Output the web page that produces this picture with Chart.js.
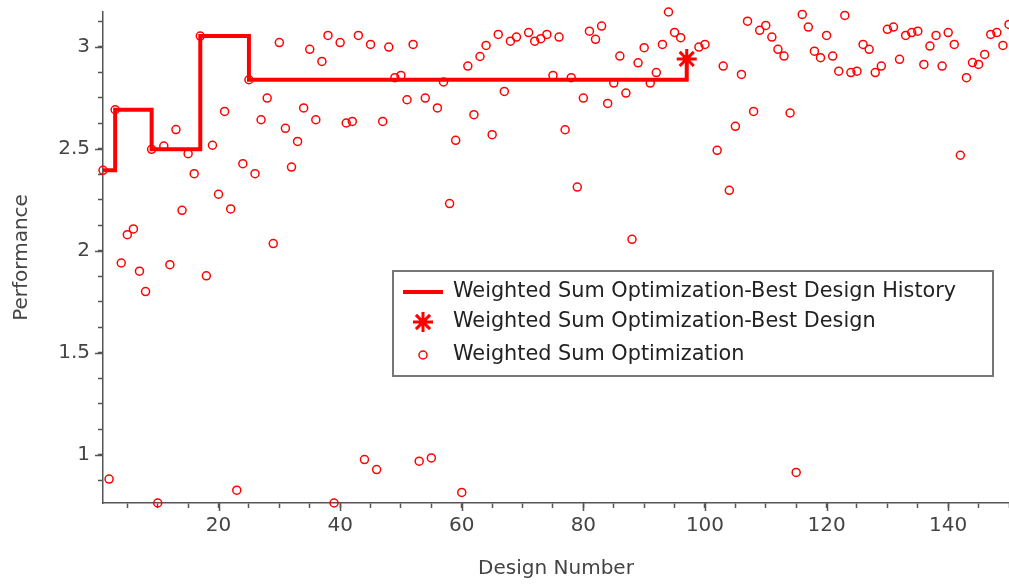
<!DOCTYPE html>
<html>
<head>
<meta charset="utf-8">
<script src="https://cdn.jsdelivr.net/npm/chart.js@4"></script>
<style>
  body { margin: 0; background: #fff; }
  #wrap { width: 1009px; height: 586px; }
</style>
</head>
<body>
<div id="wrap"><canvas id="chart"></canvas></div>
<script>
// all designs that were evaluated
const designNumbers = [
    1, 2, 3, 4, 5, 6, 7, 8, 9, 10, 11, 12, 13, 14, 15, 16, 17, 18, 19, 20,
    21, 22, 23, 24, 25, 26, 27, 28, 29, 30, 31, 32, 33, 34, 35, 36, 37, 38, 39, 40,
    41, 42, 43, 44, 45, 46, 47, 48, 49, 50, 51, 52, 53, 54, 55, 56, 57, 58, 59, 60,
    61, 62, 63, 64, 65, 66, 67, 68, 69, 71, 72, 73, 74, 75, 76, 77, 78, 79, 80,
    81, 82, 83, 84, 85, 86, 87, 88, 89, 90, 91, 92, 93, 94, 95, 96, 99, 100,
    102, 103, 104, 105, 106, 107, 108, 109, 110, 111, 112, 113, 114, 115, 116, 117, 118, 119, 120,
    121, 122, 123, 124, 125, 126, 127, 128, 129, 130, 131, 132, 133, 134, 135, 136, 137, 138, 139, 140,
    141, 142, 143, 144, 145, 146, 147, 148, 149, 150,
];
const performance = [
    2.394, 0.881, 2.691, 1.94, 2.079, 2.107, 1.90, 1.80, 2.497, 0.764, 2.513, 1.932, 2.594, 2.198, 2.476, 2.378, 3.052, 1.877, 2.517, 2.277,
    2.683, 2.205, 0.827, 2.427, 2.838, 2.378, 2.642, 2.748, 2.035, 3.02, 2.60, 2.41, 2.536, 2.70, 2.987, 2.642, 2.928, 3.055, 0.764, 3.02,
    2.626, 2.634, 3.055, 0.977, 3.011, 0.928, 2.634, 2.998, 2.848, 2.859, 2.74, 3.011, 0.969, 2.748, 0.985, 2.70, 2.827, 2.231, 2.541, 0.816,
    2.905, 2.667, 2.952, 3.006, 2.569, 3.06, 2.781, 3.027, 3.047, 3.069, 3.027, 3.039, 3.06, 2.859, 3.047, 2.593, 2.848, 2.312, 2.748,
    3.076, 3.036, 3.101, 2.722, 2.822, 2.954, 2.773, 2.056, 2.921, 2.995, 2.822, 2.873, 3.011, 3.17, 3.07, 3.044, 2.998, 3.011,
    2.492, 2.905, 2.296, 2.61, 2.864, 3.125, 2.683, 3.08, 3.104, 3.047, 2.987, 2.954, 2.675, 0.914, 3.158, 3.096, 2.978, 2.946, 3.055,
    2.954, 2.88, 3.153, 2.873, 2.88, 3.011, 2.987, 2.873, 2.905, 3.085, 3.096, 2.938, 3.055, 3.069, 3.076, 2.913, 3.003, 3.055, 2.905, 3.069,
    3.011, 2.468, 2.848, 2.922, 2.913, 2.962, 3.06, 3.069, 3.006, 3.109,
];

// best design history (step line) and the final best design
const historyDesigns = [1, 3, 9, 17, 25, 97];
const historyPerformance = [2.394, 2.691, 2.497, 3.052, 2.838, 2.94];
const bestDesign = [97];
const bestPerformance = [2.94];

const seriesNames = [
    "Weighted Sum Optimization-Best Design History",
    "Weighted Sum Optimization-Best Design",
    "Weighted Sum Optimization",
];

const xTickLabels = [20, 40, 60, 80, 100, 120, 140];
const yTickLabels = [1, 1.5, 2, 2.5, 3];

const red = "#ff0000";
const axisColor = "#555";
const textColor = "#444";

Chart.defaults.font.family = "'DejaVu Sans', Verdana, sans-serif";
Chart.defaults.font.size = 20;
Chart.defaults.color = textColor;

const toPoints = (xs, ys) => xs.map((x, i) => ({ x: x, y: ys[i] }));

// long ticks at the labelled values
const majorTicks = {
    id: "majorTicks",
    afterDraw(chart) {
        const { ctx, scales } = chart;
        ctx.save();
        ctx.strokeStyle = axisColor;
        ctx.lineWidth = 1.5;
        ctx.beginPath();
        xTickLabels.forEach((v) => {
            const px = Math.round(scales.x.getPixelForValue(v)) + 0.5;
            ctx.moveTo(px, scales.x.top);
            ctx.lineTo(px, scales.x.top + 8);
        });
        yTickLabels.forEach((v) => {
            const py = Math.round(scales.y.getPixelForValue(v)) + 0.5;
            ctx.moveTo(scales.y.right, py);
            ctx.lineTo(scales.y.right - 8, py);
        });
        ctx.stroke();
        ctx.restore();
    },
};

// boxed legend inside the plot
const insideLegend = {
    id: "insideLegend",
    afterDraw(chart) {
        const ctx = chart.ctx;
        const box = { left: 393, top: 271, right: 993, bottom: 376 };
        const rows = [292, 322, 355];
        const markX = 423;

        ctx.save();
        ctx.fillStyle = "#fff";
        ctx.fillRect(box.left, box.top, box.right - box.left, box.bottom - box.top);
        ctx.strokeStyle = "#777";
        ctx.lineWidth = 2;
        ctx.strokeRect(box.left, box.top, box.right - box.left, box.bottom - box.top);

        ctx.strokeStyle = red;
        ctx.lineWidth = 4;
        ctx.beginPath();
        ctx.moveTo(markX - 20, rows[0]);
        ctx.lineTo(markX + 20, rows[0]);
        ctx.stroke();

        ctx.lineWidth = 3;
        Chart.helpers.drawPoint(ctx, { pointStyle: "star", radius: 10, borderWidth: 3, rotation: 0 }, markX, rows[1]);
        ctx.lineWidth = 1.5;
        ctx.fillStyle = "rgba(0,0,0,0)";
        Chart.helpers.drawPoint(ctx, { pointStyle: "circle", radius: 4, borderWidth: 1.5, rotation: 0 }, markX, rows[2]);

        ctx.fillStyle = "#222";
        ctx.font = "20.8px 'DejaVu Sans'";
        ctx.textBaseline = "middle";
        ctx.textAlign = "left";
        seriesNames.forEach((name, i) => ctx.fillText(name, 453, rows[i]));
        ctx.restore();
    },
};

new Chart(document.getElementById("chart"), {
    type: "scatter",
    data: {
        datasets: [
            {
                label: seriesNames[0],
                data: toPoints(historyDesigns, historyPerformance),
                showLine: true,
                stepped: "before",
                borderColor: red,
                borderWidth: 4,
                pointRadius: 0,
                clip: false,
            },
            {
                label: seriesNames[1],
                data: toPoints(bestDesign, bestPerformance),
                pointStyle: "star",
                pointRadius: 10,
                pointBorderWidth: 3,
                borderColor: red,
                backgroundColor: red,
                clip: false,
            },
            {
                label: seriesNames[2],
                data: toPoints(designNumbers, performance),
                pointStyle: "circle",
                pointRadius: 4,
                pointBorderWidth: 1.5,
                borderColor: red,
                backgroundColor: "rgba(0,0,0,0)",
                clip: false,
            },
        ],
    },
    options: {
        responsive: true,
        maintainAspectRatio: false,
        animation: false,
        layout: { autoPadding: false, padding: { top: 12, right: 0, bottom: 0, left: 0 } },
        plugins: {
            legend: { display: false },
            tooltip: { enabled: false },
        },
        scales: {
            x: {
                type: "linear",
                min: 1,
                max: 150,
                afterFit: (scale) => {
                    scale.height = 83;
                    scale.paddingLeft = 0;
                    scale.paddingRight = 0;
                },
                ticks: {
                    stepSize: 5,
                    includeBounds: false,
                    autoSkip: false,
                    maxRotation: 0,
                    padding: 6,
                    callback: (v) => (xTickLabels.includes(v) ? String(v) : ""),
                },
                grid: {
                    drawOnChartArea: false,
                    tickLength: 5,
                    tickColor: axisColor,
                    tickWidth: 1.5,
                },
                border: { color: axisColor, width: 1.5 },
                title: {
                    display: true,
                    text: "Design Number",
                    color: textColor,
                    padding: { top: 0, bottom: 5 },
                },
            },
            y: {
                type: "linear",
                min: Math.min(...performance),
                max: Math.max(...performance),
                afterFit: (scale) => {
                    scale.width = 103;
                    scale.paddingTop = 0;
                    scale.paddingBottom = 0;
                },
                ticks: {
                    stepSize: 0.125,
                    includeBounds: false,
                    autoSkip: false,
                    padding: 8,
                    callback: (v) => (yTickLabels.some((t) => Math.abs(t - v) < 1e-6) ? String(v) : ""),
                },
                grid: {
                    drawOnChartArea: false,
                    tickLength: 5,
                    tickColor: axisColor,
                    tickWidth: 1.5,
                },
                border: { color: axisColor, width: 1.5 },
                title: {
                    display: true,
                    text: "Performance",
                    color: textColor,
                    padding: { top: 10, bottom: 0 },
                },
            },
        },
    },
    plugins: [majorTicks, insideLegend],
});
</script>
</body>
</html>
